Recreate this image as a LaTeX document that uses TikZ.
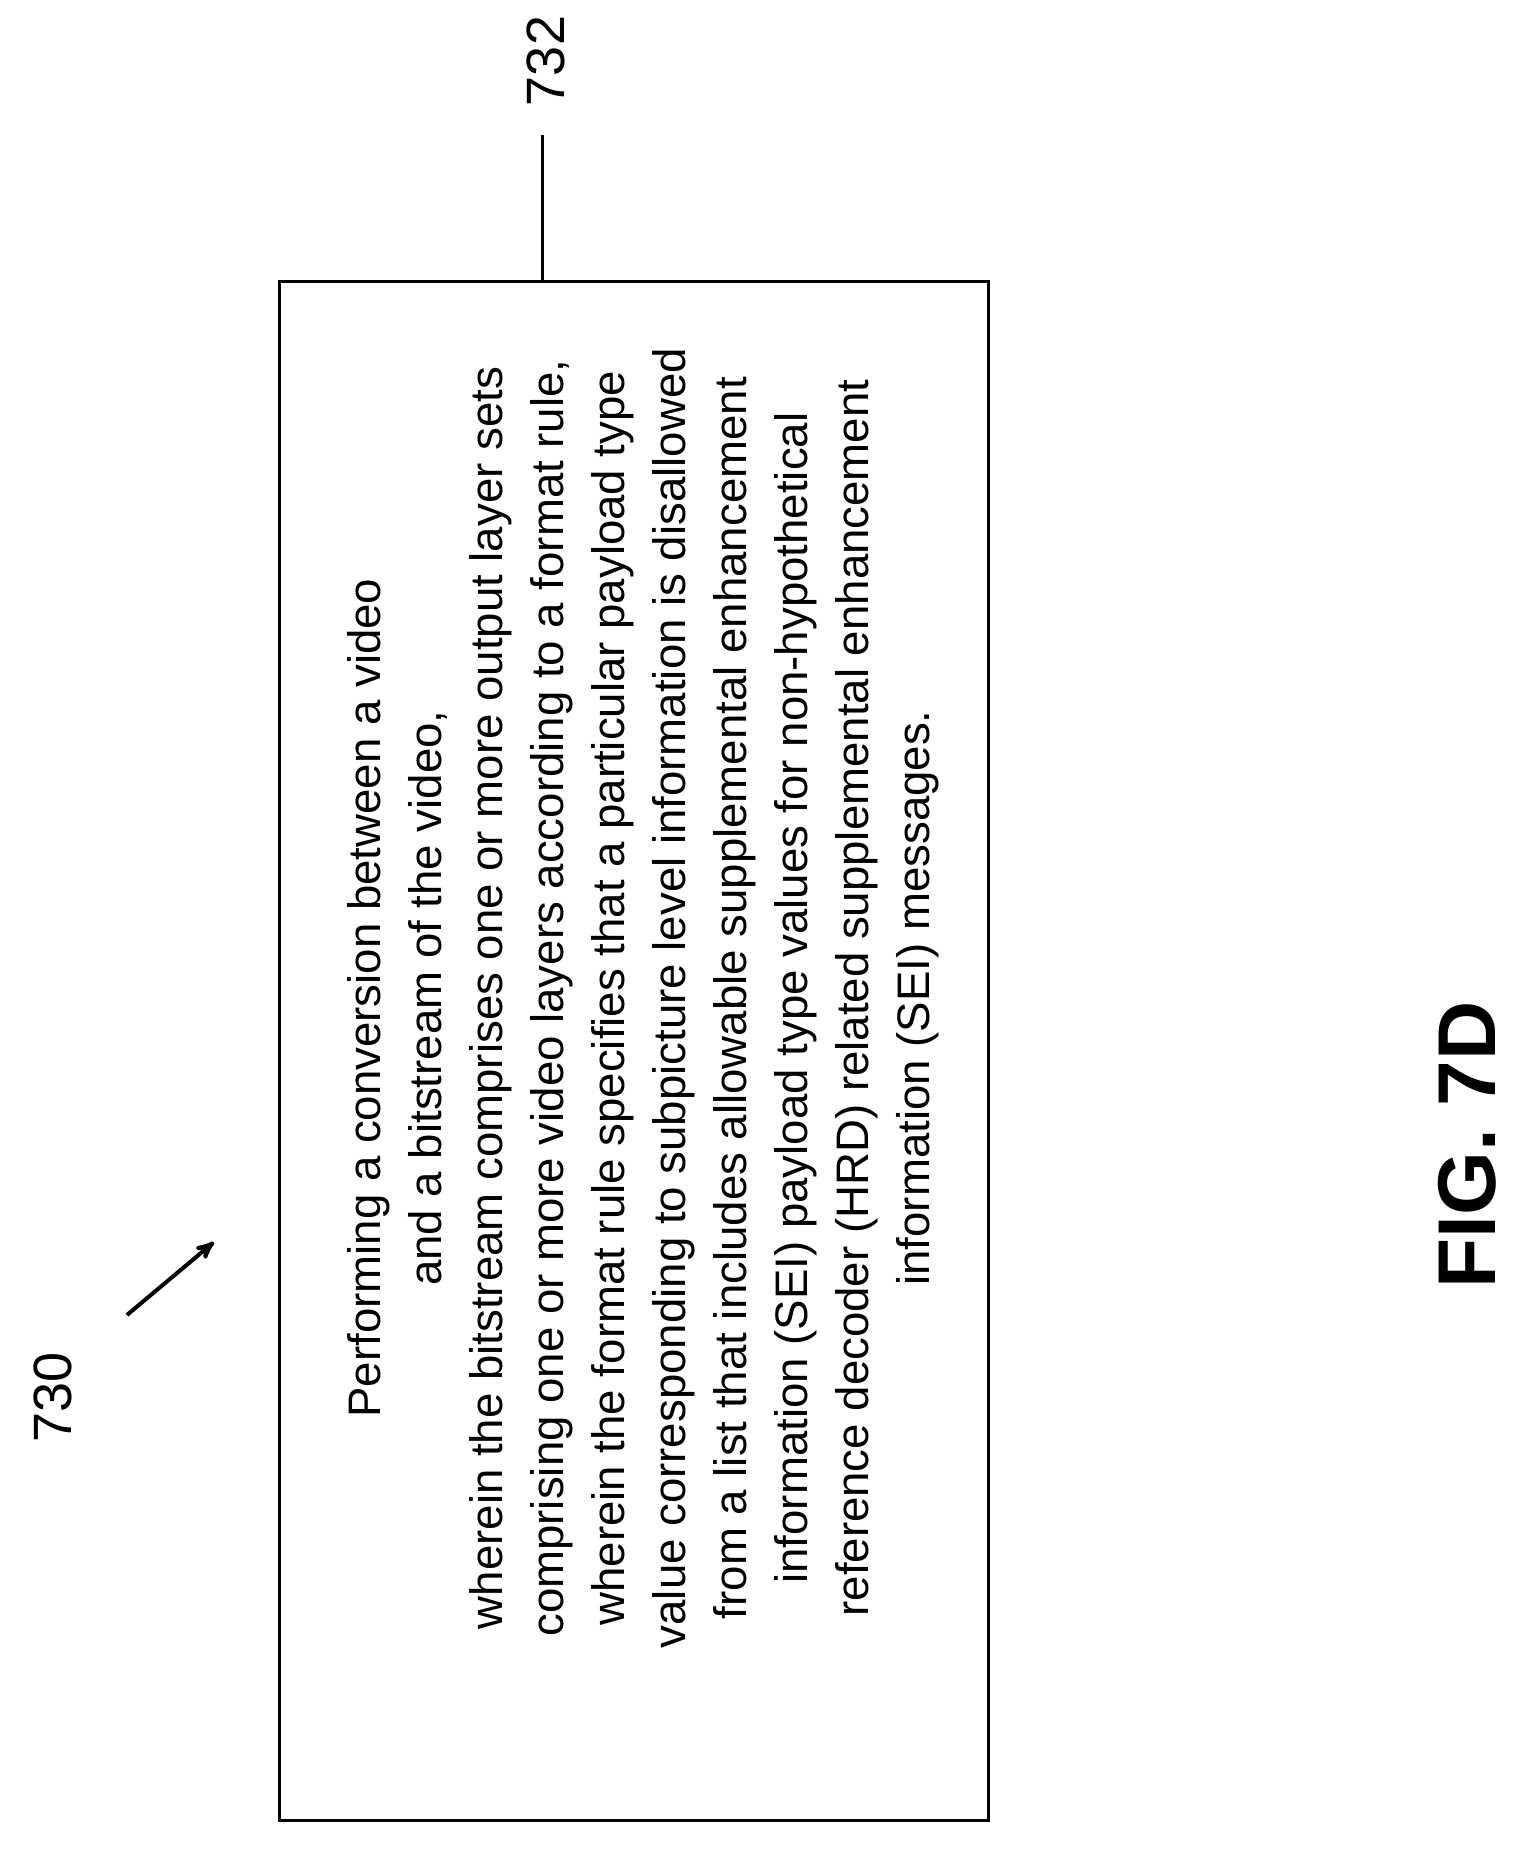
\documentclass[tikz,border=0pt]{standalone}
\usepackage{fontspec}
\setmainfont{Liberation Sans}
\usetikzlibrary{positioning}
\usetikzlibrary{arrows}
\tikzstyle{stepbox} = [draw, line width=1.5pt, rectangle]
\tikzstyle{body} = [rotate=90, align=center, font=\fontsize{22.8}{30.5}\selectfont]
\tikzstyle{refnum} = [rotate=90, font=\fontsize{27}{30}\selectfont]
\begin{document}
\begin{tikzpicture}[x=0.5pt, y=-0.5pt, >=stealth']
    \useasboundingbox (0,0) rectangle (1526,1855);
    \node[stepbox, minimum width=1538*0.5pt, minimum height=709*0.5pt, rotate=90, name=box] at (634,1051) {};
    \node[body, name=txt] at (643,998) {Performing a conversion between a video\\
       and a bitstream of the video,\\
       wherein the bitstream comprises one or more output layer sets\\
       comprising one or more video layers according to a format rule,\\
       wherein the format rule specifies that a particular payload type\\
       value corresponding to subpicture level information is disallowed\\
       from a list that includes allowable supplemental enhancement\\
       information (SEI) payload type values for non-hypothetical\\
       reference decoder (HRD) related supplemental enhancement\\
       information (SEI) messages.};
    \node[refnum, name=n732] at (546,61) {732};
    \coordinate (tick) at (542,135);
    \draw[line width=1.5pt] (tick) -- (tick |- box.east);
    \node[refnum, name=n730] at (53,1397) {730};
    \coordinate (arrstart) at (127,1315);
    \coordinate (arrend) at (214,1242);
    \draw[->, line width=2pt] (arrstart) -- (arrend);
    \node[rotate=90, font=\fontsize{41}{45}\bfseries, name=fig] at (1467,1145) {FIG. 7D};
\end{tikzpicture}
\end{document}
